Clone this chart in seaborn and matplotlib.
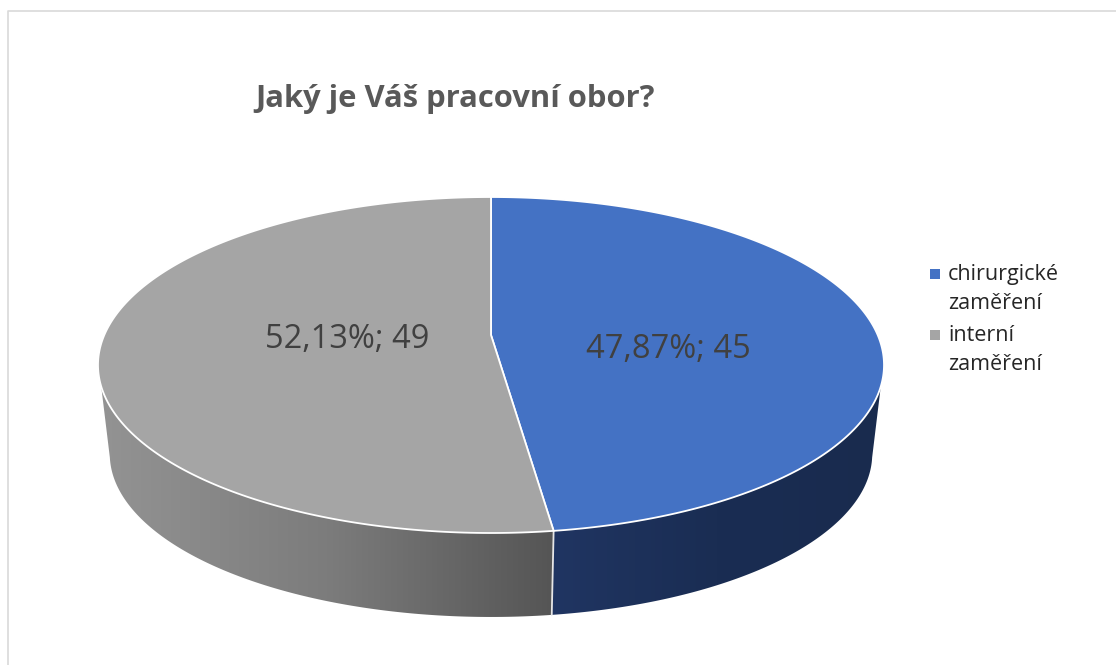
import numpy as np
import matplotlib
matplotlib.use("Agg")
import matplotlib.pyplot as plt
from matplotlib.patches import Polygon, Rectangle
from matplotlib.lines import Line2D
import seaborn as sns

# Survey answers
categories = ["chirurgické\nzaměření", "interní\nzaměření"]
counts = [45, 49]
title_text = "Jaký je Váš pracovní obor?"

# Colours
face_colors = sns.color_palette(["#4472C4", "#A5A5A5"])
wall_ramps = [["#203562", "#1A2D53", "#192B4E"], ["#939393", "#7C7C7C", "#555555"]]

sns.set_theme(style="white")
plt.rcParams["font.family"] = ["Open Sans", "DejaVu Sans"]

W, H = 1116, 665
fig = plt.figure(figsize=(W / 100, H / 100), dpi=100, facecolor="white")
ax = fig.add_axes([0, 0, 1, 1])

# The pie supplies the slice angles; each wedge is then projected to a tilted disc.
wedges, _ = ax.pie(counts, startangle=90, counterclock=False)
angles = [(w.theta1, w.theta2) for w in wedges]
for w in wedges:
    w.remove()
ax.set_aspect("auto")
ax.set_xlim(0, W)
ax.set_ylim(H, 0)
ax.axis("off")

# Projection of the unit disc onto the page
CX, CY = 491.0, 365.0
A, B, APEX, K = 386.7, 168.0, 30.0, 0.1786
DEPTH, SHRINK = 89.0, 0.97


def project(theta_deg, scale=1.0, drop=0.0):
    t = np.radians(theta_deg)
    u, v = np.cos(t), np.sin(t)
    w = 1 + K * v
    return np.column_stack([CX + scale * A * u / w,
                            CY + drop - scale * (B * v + APEX) / w])


def arc(a, b, n=240):
    return np.linspace(a, b, n)


# Side walls: angles are measured where the rims meet the silhouette
split = angles[0][0]
upper_tan = np.degrees(np.arcsin(-0.30))
lower_tan = np.degrees(np.arcsin(-0.20))
upper_ends = [upper_tan, -180 - upper_tan]
lower_ends = [lower_tan, -180 - lower_tan]
for i, ramp in enumerate(wall_ramps):
    top = project(arc(upper_ends[i], split))
    low = project(arc(split, lower_ends[i]), SHRINK, DEPTH)
    outline = np.vstack([top, low])
    clip = Polygon(outline, closed=True, facecolor="none", edgecolor="none", transform=ax.transData)
    ax.add_patch(clip)
    x0, x1 = outline[:, 0].min(), outline[:, 0].max()
    y0, y1 = outline[:, 1].min(), outline[:, 1].max()
    cmap = sns.blend_palette(ramp, as_cmap=True)
    img = ax.imshow(np.linspace(0, 1, 256)[None, :], cmap=cmap, extent=(x0, x1, y1, y0),
                    aspect="auto", interpolation="bilinear", zorder=1)
    img.set_clip_path(clip)
ax.set_xlim(0, W)
ax.set_ylim(H, 0)

# Edge between the two walls
edge_top = project(np.array([split]))
edge_low = project(np.array([split]), SHRINK, DEPTH)
ax.plot([edge_top[0, 0], edge_low[0, 0]], [edge_top[0, 1], edge_low[0, 1]],
        color="#E6E6E6", lw=1.3, zorder=2)

# Top faces
apex_point = np.array([[CX, CY - APEX]])
for (t1, t2), color in zip(angles, face_colors):
    pts = np.vstack([apex_point, project(arc(t1, t2))])
    ax.add_patch(Polygon(pts, closed=True, facecolor=color, edgecolor="white",
                         lw=1.3, joinstyle="round", zorder=3))

# Data labels computed from the counts
total = sum(counts)
label_xy = [(668, 350), (347, 340)]
for n, (x, y) in zip(counts, label_xy):
    share = f"{100 * n / total:.2f}".replace(".", ",")
    ax.text(x, y, f"{share}%; {n}", ha="center", va="center",
            fontsize=23.5, color="#404040", zorder=5)

ax.text(455, 99, title_text, ha="center", va="center", fontsize=22.3,
        fontweight="bold", color="#595959")

# Legend
legend_y = [274, 335]
for name, color, y in zip(categories, face_colors, legend_y):
    ax.add_patch(Rectangle((930, y - 5), 10, 10, facecolor=color, edgecolor="none"))
    ax.text(948, y - 10, name, ha="left", va="top", fontsize=15.5, color="#262626",
            linespacing=1.48)

# Chart frame: only its left and top edges fall inside the canvas
ax.add_line(Line2D([8, 8, W], [H, 11, 11], color="#D9D9D9", lw=1.2))

fig.savefig("out.png", dpi=100, facecolor="white")
